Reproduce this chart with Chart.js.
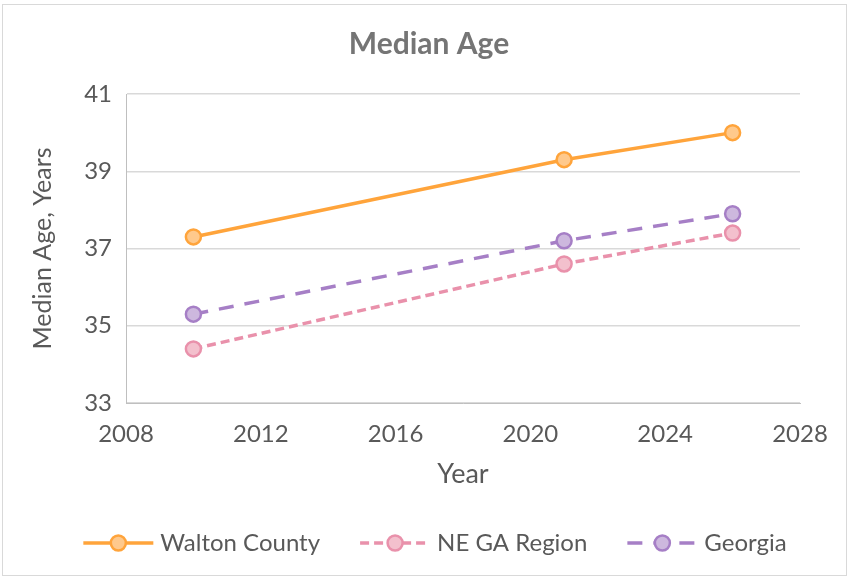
<!DOCTYPE html>
<html>
<head>
<meta charset="utf-8">
<script src="https://cdn.jsdelivr.net/npm/chart.js@4"></script>
<style>
  html, body { margin: 0; padding: 0; background: #fff; }
  #wrap { width: 849px; height: 577px; position: relative; }
</style>
</head>
<body>
<div id="wrap"><canvas id="chart" width="849" height="577"></canvas></div>
<script>
// data
const years = [2010, 2021, 2026];
const waltonCounty = [37.3, 39.3, 40.0];
const neGaRegion = [34.4, 36.6, 37.4];
const georgia = [35.3, 37.2, 37.9];
const seriesNames = ['Walton County', 'NE GA Region', 'Georgia'];

const toPoints = vals => years.map((y, i) => ({ x: y, y: vals[i] }));

// draws the excel-like frame and bottom legend (line + marker + text)
const frameAndLegend = {
    id: 'frameAndLegend',
    beforeDraw(chart) {
        const ctx = chart.ctx;
        ctx.save();
        ctx.strokeStyle = '#d9d9d9';
        ctx.lineWidth = 1;
        ctx.strokeRect(2.5, 4.5, 844, 571);
        ctx.restore();
    },
    afterDraw(chart) {
        const ctx = chart.ctx;
        ctx.save();
        ctx.font = '24px Lato';
        const lineLen = 70, textGap = 7, itemGap = 40;
        const items = chart.data.datasets.map(ds => ({
            ds, w: lineLen + textGap + ctx.measureText(ds.label).width
        }));
        const total = items.reduce((s, it) => s + it.w, 0) + itemGap * (items.length - 1);
        let x = 435 - total / 2;
        const y = 543;
        items.forEach(({ ds, w }) => {
            ctx.strokeStyle = ds.borderColor;
            ctx.lineWidth = ds.borderWidth;
            ctx.setLineDash(ds.borderDash || []);
            ctx.beginPath();
            ctx.moveTo(x, y);
            ctx.lineTo(x + lineLen, y);
            ctx.stroke();
            ctx.setLineDash([]);
            ctx.beginPath();
            ctx.arc(x + lineLen / 2, y, ds.pointRadius, 0, Math.PI * 2);
            ctx.fillStyle = ds.pointBackgroundColor;
            ctx.fill();
            ctx.lineWidth = ds.pointBorderWidth;
            ctx.strokeStyle = ds.pointBorderColor;
            ctx.stroke();
            ctx.fillStyle = '#595959';
            ctx.textBaseline = 'middle';
            ctx.textAlign = 'left';
            ctx.fillText(ds.label, x + lineLen + textGap, y);
            x += w + itemGap;
        });
        ctx.restore();
    }
};

const ctx = document.getElementById('chart').getContext('2d');
new Chart(ctx, {
    type: 'line',
    data: {
        datasets: [
            {
                label: seriesNames[0],
                data: toPoints(waltonCounty),
                borderColor: '#ffa43b',
                borderWidth: 3.5,
                pointRadius: 7.5,
                pointBackgroundColor: '#ffc98c',
                pointBorderColor: '#ffa43b',
                pointBorderWidth: 2.5
            },
            {
                label: seriesNames[1],
                data: toPoints(neGaRegion),
                borderColor: '#e991ab',
                borderWidth: 3.5,
                borderDash: [9, 5],
                pointRadius: 7.5,
                pointBackgroundColor: '#f3c0cd',
                pointBorderColor: '#e991ab',
                pointBorderWidth: 2.5
            },
            {
                label: seriesNames[2],
                data: toPoints(georgia),
                borderColor: '#a67fc6',
                borderWidth: 3.5,
                borderDash: [15, 11],
                pointRadius: 7.5,
                pointBackgroundColor: '#cdb8de',
                pointBorderColor: '#a67fc6',
                pointBorderWidth: 2.5
            }
        ]
    },
    options: {
        responsive: false,
        animation: false,
        layout: { padding: { left: 9, right: 0, top: 0, bottom: 70 } },
        plugins: {
            legend: { display: false },
            tooltip: { enabled: false },
            title: {
                display: true,
                text: 'Median Age',
                color: '#757575',
                font: { family: 'Lato', size: 30, weight: 'bold' },
                padding: { top: 26, bottom: 32 }
            }
        },
        scales: {
            x: {
                type: 'linear',
                min: 2008,
                max: 2028,
                ticks: {
                    stepSize: 4,
                    color: '#595959',
                    font: { family: 'Lato', size: 24 },
                    padding: 17,
                    callback: v => String(v)
                },
                grid: { display: false, drawTicks: false },
                border: { display: true, color: '#bfbfbf', width: 1 },
                title: {
                    display: true,
                    text: 'Year',
                    color: '#595959',
                    font: { family: 'Lato', size: 27 },
                    padding: { top: 0, bottom: 17 }
                },
                afterFit: s => { s.height = 104; }
            },
            y: {
                min: 33,
                max: 41,
                ticks: {
                    stepSize: 2,
                    color: '#595959',
                    font: { family: 'Lato', size: 24 },
                    padding: 14
                },
                grid: { color: '#d9d9d9', lineWidth: 1.5, drawTicks: false },
                border: { display: true, color: '#bfbfbf', width: 1 },
                title: {
                    display: true,
                    text: 'Median Age, Years',
                    color: '#595959',
                    font: { family: 'Lato', size: 25 },
                    padding: { top: 19, bottom: 0 }
                },
                afterFit: s => { s.width = 117; }
            },
            // empty right-hand axis, only reserves the blank margin right of the plot
            yRight: {
                type: 'linear',
                position: 'right',
                ticks: { display: false },
                grid: { display: false, drawTicks: false },
                border: { display: false },
                afterFit: s => { s.width = 49; }
            }
        }
    },
    plugins: [frameAndLegend]
});
</script>
</body>
</html>
